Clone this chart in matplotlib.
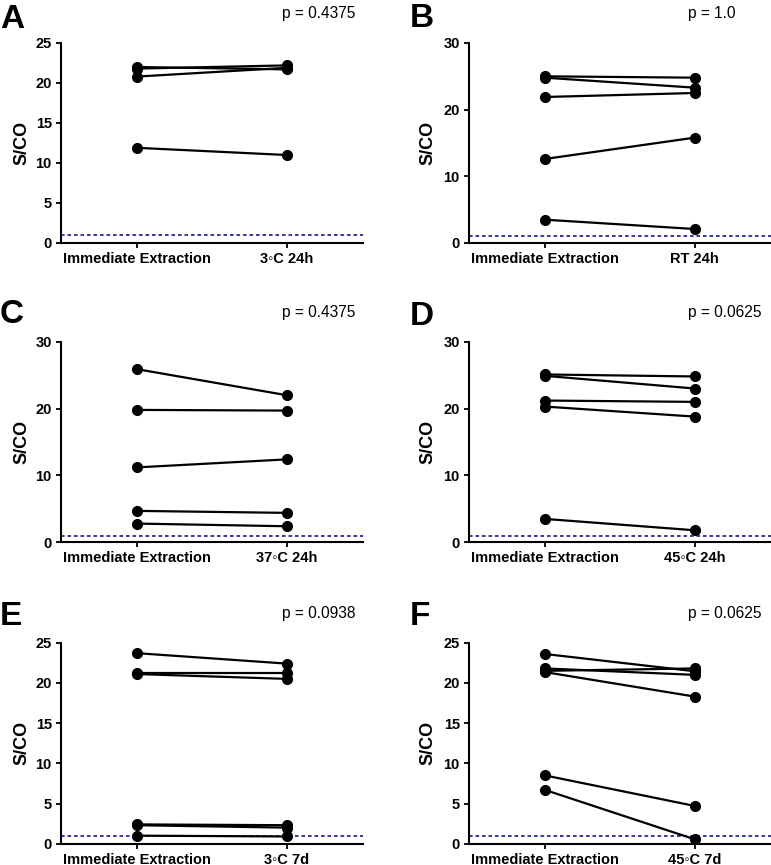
import matplotlib
matplotlib.use('Agg')
import matplotlib.pyplot as plt

plt.rcParams['font.family'] = ['Liberation Sans', 'DejaVu Sans']

conditions = ['3\u25e6C 24h', 'RT 24h', '37\u25e6C 24h', '45\u25e6C 24h', '3\u25e6C 7d', '45\u25e6C 7d']
letters = ['A', 'B', 'C', 'D', 'E', 'F']
p_values = ['p = 0.4375', 'p = 1.0', 'p = 0.4375', 'p = 0.0625', 'p = 0.0938', 'p = 0.0625']
y_max = [25, 30, 30, 30, 25, 25]
y_step = [5, 10, 10, 10, 5, 5]
cutoff = 1.0

# S/CO before (immediate extraction) and after storage, one pair per sample
before_a = [22.0, 21.8, 20.8, 11.9]
after_a = [21.7, 22.2, 21.9, 11.0]
before_b = [25.0, 24.8, 21.9, 12.6, 3.5]
after_b = [24.8, 23.3, 22.5, 15.8, 2.1]
before_c = [25.9, 19.8, 11.2, 4.7, 2.8]
after_c = [22.0, 19.7, 12.4, 4.4, 2.4]
before_d = [25.1, 24.9, 21.2, 20.3, 3.5]
after_d = [24.8, 23.0, 21.0, 18.8, 1.8]
before_e = [23.7, 21.2, 21.1, 2.4, 2.3, 1.0]
after_e = [22.4, 21.2, 20.5, 2.3, 2.0, 0.9]
before_f = [23.6, 21.8, 21.5, 21.35, 8.5, 6.7]
after_f = [21.45, 21.0, 21.8, 18.3, 4.7, 0.55]

befores = [before_a, before_b, before_c, before_d, before_e, before_f]
afters = [after_a, after_b, after_c, after_d, after_e, after_f]

W, H = 771, 865
fig = plt.figure(figsize=(W / 100, H / 100), dpi=100)

col_left = [61, 469]
row_top = [43, 341.7, 642.7]
row_bot = [243, 542.3, 843.7]
ax_w = 302

letter_base = [28, 27, 323, 325, 625, 625]
p_x = [282, 688]
p_base = [18, 317, 618]

for i in range(6):
    r, c = divmod(i, 2)
    l = col_left[c] / W
    b = 1 - row_bot[r] / H
    h = (row_bot[r] - row_top[r]) / H
    ax = fig.add_axes([l, b, ax_w / W, h])

    for y0, y1 in zip(befores[i], afters[i]):
        ax.plot([0, 1], [y0, y1], color='black', lw=1.6, marker='o',
                markersize=7, clip_on=False, zorder=3)
    ax.axhline(cutoff, color='#2a2a96', lw=1.3, linestyle=(0, (2, 1.6)), zorder=2)

    ax.set_xlim(-0.505, 1.51)
    ax.set_ylim(0, y_max[i])
    ax.set_yticks(range(0, y_max[i] + 1, y_step[i]))
    ax.set_xticks([0, 1])
    ax.set_xticklabels(['Immediate Extraction', conditions[i]])
    for s in ['top', 'right']:
        ax.spines[s].set_visible(False)
    for s in ['left', 'bottom']:
        ax.spines[s].set_linewidth(1.5)
    ax.tick_params(width=1.3, length=3.6, pad=3, labelsize=10.5)
    for t in ax.get_xticklabels() + ax.get_yticklabels():
        t.set_fontweight('bold')
    ax.set_ylabel('S/CO', fontsize=13, fontweight='bold', va='center')
    ax.yaxis.set_label_coords(-0.13 if c == 0 else -0.136, 0.5)

    lx = 0 if c == 0 else 410
    fig.text(lx / W, 1 - letter_base[i] / H, letters[i], fontsize=24,
             fontweight='bold', ha='left', va='baseline')
    fig.text(p_x[c] / W, 1 - p_base[r] / H, p_values[i], fontsize=11.2,
             ha='left', va='baseline')

fig.savefig('out.png', dpi=100)
